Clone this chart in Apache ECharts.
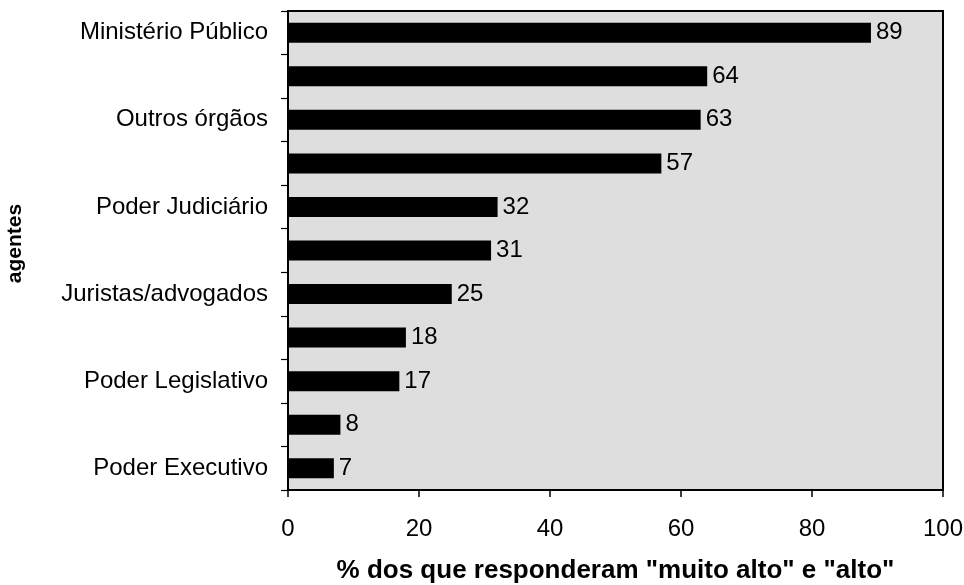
<!DOCTYPE html>
<html><head><meta charset="utf-8">
<script src="https://cdn.jsdelivr.net/npm/echarts@6/dist/echarts.min.js"></script>
<style>html,body{margin:0;padding:0;background:#fff}#c{width:964px;height:585px}</style>
</head><body><div id="c"></div>
<script>
var categories = ["Ministério Público", "", "Outros órgãos", "", "Poder Judiciário", "", "Juristas/advogados", "", "Poder Legislativo", "", "Poder Executivo"];
var values = [89, 64, 63, 57, 32, 31, 25, 18, 17, 8, 7];
var xTicks = [0, 20, 40, 60, 80, 100];
var xTitle = '% dos que responderam "muito alto" e "alto"';
var yTitle = 'agentes';

var chart = echarts.init(document.getElementById('c'));
var F = '"Liberation Sans", Arial, sans-serif';
chart.setOption({
  animation: false,
  grid: {left: 288, right: 21, top: 11, bottom: 95, containLabel: false, outerBoundsMode: 'none',
    show: true, backgroundColor: '#dedede', borderColor: '#000', borderWidth: 2},
  xAxis: {
    type: 'value', min: xTicks[0], max: xTicks[xTicks.length - 1], interval: 20,
    name: xTitle, nameLocation: 'middle', nameGap: 68,
    nameTextStyle: {fontFamily: F, fontWeight: 'bold', fontSize: 26, color: '#000'},
    axisLine: {show: true, lineStyle: {color: '#000', width: 2}},
    axisTick: {show: true, length: 7, lineStyle: {color: '#000', width: 1.5}},
    axisLabel: {fontFamily: F, fontSize: 24, color: '#000', margin: 27},
    splitLine: {show: false}
  },
  yAxis: {
    type: 'category', inverse: true,
    data: categories.map(function (c, i) { return String(i); }),
    name: yTitle, nameLocation: 'middle', nameGap: 262, nameRotate: 90,
    nameTextStyle: {fontFamily: F, fontWeight: 'bold', fontSize: 21, color: '#000', padding: [0, 0, 0, 14]},
    axisLine: {show: true, lineStyle: {color: '#000', width: 2}},
    axisTick: {show: true, length: 7, lineStyle: {color: '#000', width: 1.2}},
    axisLabel: {interval: 0, fontFamily: F, fontSize: 24, color: '#000', margin: 20,
      formatter: function (v) { return categories[+v]; }}
  },
  series: [{
    type: 'bar', data: values, barWidth: 20,
    itemStyle: {color: '#000'},
    label: {show: true, position: 'right', distance: 5, fontFamily: F, fontSize: 24, color: '#000'}
  }]
});
</script></body></html>
